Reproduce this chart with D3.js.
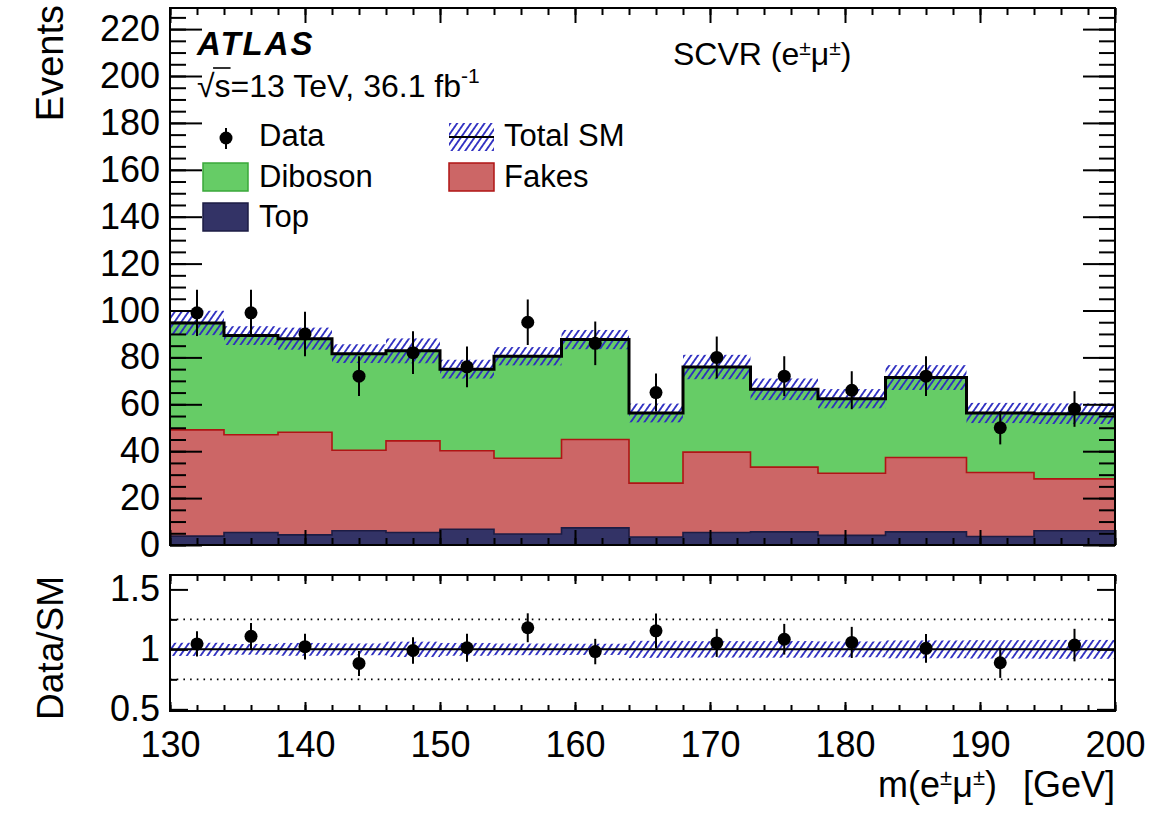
<!DOCTYPE html>
<html>
<head>
<meta charset="utf-8">
<script src="https://cdn.jsdelivr.net/npm/d3@7/dist/d3.min.js"></script>
<style>
  body { margin: 0; background: #fff; }
  text { font-family: "Liberation Sans", Arial, Helvetica, sans-serif; fill: #000; }
</style>
</head>
<body>
<div id="chart"></div>
<script>
// bin edges in m(e mu) [GeV]
var binEdges = [130, 134, 138, 142, 146, 150, 154, 159, 164, 168, 173, 178, 183, 189, 194, 200];

// stacked backgrounds, per bin
var topBkg   = [3.8, 5.3, 4.3, 6.1, 5.3, 6.7, 4.7, 7.3, 3.4, 5.3, 5.6, 4.1, 5.6, 3.6, 6.1];
var fakes    = [45.3, 41.7, 43.8, 34.3, 39.1, 33.5, 32.3, 37.7, 23.0, 34.3, 27.6, 26.5, 31.7, 27.3, 22.1];
var diboson  = [45.6, 42.3, 39.9, 41.2, 38.4, 34.8, 43.5, 42.6, 29.9, 36.3, 33.2, 31.8, 34.1, 25.4, 27.8];
// total SM uncertainty (hatched band)
var totalUnc = [5.2, 4.0, 4.7, 4.0, 5.3, 4.0, 3.9, 4.1, 4.0, 5.2, 4.6, 4.1, 5.3, 4.3, 4.4];

// data and its error
var dataVals = [99, 99, 90, 72, 82, 76, 95, 86, 65, 80, 72, 66, 72, 50, 58];
var dataErr  = [9.9, 9.9, 9.5, 8.5, 9.1, 8.7, 9.7, 9.3, 8.1, 8.9, 8.5, 8.1, 8.5, 7.1, 7.6];

// tick values
var yMajor = [0, 20, 40, 60, 80, 100, 120, 140, 160, 180, 200, 220];
var xMajor = [130, 140, 150, 160, 170, 180, 190, 200];
var rMajor = [0.5, 1, 1.5];
var rMinor = [0.75, 1.25];

var width = 1155, height = 815;
var left = 170, right = 1115;
var mainTop = 8, mainBot = 545, ratTop = 575, ratBot = 711;

var hatchColor = "#2b2bc0";

var svg = d3.select("#chart").append("svg")
  .attr("width", width)
  .attr("height", height);

svg.append("rect").attr("width", width).attr("height", height).attr("fill", "#fff");

// hatch pattern
var defs = svg.append("defs");
defs.append("pattern")
  .attr("id", "hatch")
  .attr("patternUnits", "userSpaceOnUse")
  .attr("width", 5.6)
  .attr("height", 10)
  .attr("patternTransform", "rotate(35)")
  .append("line")
  .attr("x1", 2.8).attr("x2", 2.8)
  .attr("y1", 0).attr("y2", 10)
  .attr("stroke", hatchColor)
  .attr("stroke-width", 1.8);

// scales
var x = d3.scaleLinear().domain([130, 200]).range([left, right]);
var y = d3.scaleLinear().domain([0, 229]).range([mainBot, mainTop]);
var yr = d3.scaleLinear().domain([0.486, 1.62]).range([ratBot, ratTop]);

// build stacked table
var bins = binEdges.slice(0, -1).map(function(lo, i) {
  var s1 = topBkg[i];
  var s2 = s1 + fakes[i];
  var s3 = s2 + diboson[i];
  return {
    lo: lo, hi: binEdges[i + 1], mid: (lo + binEdges[i + 1]) / 2,
    top: s1, fakes: s2, total: s3, unc: totalUnc[i],
    data: dataVals[i], err: dataErr[i]
  };
});

// step points (last bin repeated at the right edge)
function stepPts(key) {
  var pts = bins.map(function(b) { return { x: b.lo, v: b[key] }; });
  pts.push({ x: 200, v: bins[bins.length - 1][key] });
  return pts;
}
function stepArea(loKey, hiKey) {
  var lo = stepPts(loKey), hi = stepPts(hiKey);
  return d3.area()
    .curve(d3.curveStepAfter)
    .x(function(d, i) { return x(hi[i].x); })
    .y0(function(d, i) { return loKey ? y(lo[i].v) : y(0); })
    .y1(function(d, i) { return y(hi[i].v); })(hi);
}
var stepLine = d3.line()
  .curve(d3.curveStepAfter)
  .x(function(d) { return x(d.x); })
  .y(function(d) { return y(d.v); });

var mainG = svg.append("g");

// stacked fills
mainG.append("path").attr("d", stepArea("fakes", "total")).attr("fill", "#66cc66");
mainG.append("path").attr("d", stepArea("top", "fakes")).attr("fill", "#cc6666");
mainG.append("path").attr("d", stepArea(null, "top")).attr("fill", "#333366");

mainG.append("path").attr("d", stepLine(stepPts("fakes")))
  .attr("fill", "none").attr("stroke", "#b01515").attr("stroke-width", 1.6);
mainG.append("path").attr("d", stepLine(stepPts("top")))
  .attr("fill", "none").attr("stroke", "#1c1c44").attr("stroke-width", 1.6);

// total SM uncertainty band
mainG.selectAll(".band").data(bins).enter().append("rect")
  .attr("x", function(d) { return x(d.lo); })
  .attr("width", function(d) { return x(d.hi) - x(d.lo); })
  .attr("y", function(d) { return y(d.total + d.unc); })
  .attr("height", function(d) { return y(d.total - d.unc) - y(d.total + d.unc); })
  .attr("fill", "url(#hatch)");

// total line
mainG.append("path").attr("d", stepLine(stepPts("total")))
  .attr("fill", "none").attr("stroke", "#000").attr("stroke-width", 3);

// data
mainG.selectAll(".ebar").data(bins).enter().append("line")
  .attr("x1", function(d) { return x(d.mid); })
  .attr("x2", function(d) { return x(d.mid); })
  .attr("y1", function(d) { return y(d.data - d.err); })
  .attr("y2", function(d) { return y(d.data + d.err); })
  .attr("stroke", "#000").attr("stroke-width", 2);
mainG.selectAll(".dot").data(bins).enter().append("circle")
  .attr("cx", function(d) { return x(d.mid); })
  .attr("cy", function(d) { return y(d.data); })
  .attr("r", 6.5).attr("fill", "#000");

// ratio panel
var ratG = svg.append("g");
rMinor.forEach(function(v) {
  ratG.append("line")
    .attr("x1", left).attr("x2", right)
    .attr("y1", yr(v)).attr("y2", yr(v))
    .attr("stroke", "#000").attr("stroke-width", 1.6)
    .attr("stroke-dasharray", "1.6,5.1");
});
ratG.selectAll(".rband").data(bins).enter().append("rect")
  .attr("x", function(d) { return x(d.lo); })
  .attr("width", function(d) { return x(d.hi) - x(d.lo); })
  .attr("y", function(d) { return yr(1 + d.unc / d.total); })
  .attr("height", function(d) { return yr(1 - d.unc / d.total) - yr(1 + d.unc / d.total); })
  .attr("fill", "url(#hatch)");
ratG.append("line")
  .attr("x1", left).attr("x2", right)
  .attr("y1", yr(1)).attr("y2", yr(1))
  .attr("stroke", "#000").attr("stroke-width", 2);
ratG.selectAll(".rbar").data(bins).enter().append("line")
  .attr("x1", function(d) { return x(d.mid); })
  .attr("x2", function(d) { return x(d.mid); })
  .attr("y1", function(d) { return yr((d.data - d.err) / d.total); })
  .attr("y2", function(d) { return yr((d.data + d.err) / d.total); })
  .attr("stroke", "#000").attr("stroke-width", 2);
ratG.selectAll(".rdot").data(bins).enter().append("circle")
  .attr("cx", function(d) { return x(d.mid); })
  .attr("cy", function(d) { return yr(d.data / d.total); })
  .attr("r", 6.5).attr("fill", "#000");

// axes (ticks point inward)
function addAxis(gen, tx, ty, size, values, fmt, pad) {
  var g = svg.append("g")
    .attr("transform", "translate(" + tx + "," + ty + ")")
    .call(gen.tickValues(values).tickSize(size).tickPadding(pad || 10)
      .tickFormat(fmt || ""));
  g.select(".domain").remove();
  g.selectAll("line").attr("stroke", "#000").attr("stroke-width", 2);
  g.attr("font-size", 36).attr("font-family", null);
  g.selectAll("text").attr("fill", "#000");
  return g;
}
var xMinor = d3.range(130, 201, 2);
var yMinor = d3.range(0, 230, 5);

// main panel
addAxis(d3.axisLeft(y), left, 0, -16, yMinor);
addAxis(d3.axisLeft(y), left, 0, -32, yMajor, d3.format("d"));
addAxis(d3.axisRight(y), right, 0, -16, yMinor);
addAxis(d3.axisRight(y), right, 0, -32, yMajor);
addAxis(d3.axisBottom(x), 0, mainBot, -7, xMinor);
addAxis(d3.axisBottom(x), 0, mainBot, -15, xMajor);
addAxis(d3.axisTop(x), 0, mainTop, -7, xMinor);
addAxis(d3.axisTop(x), 0, mainTop, -15, xMajor);

// ratio panel
addAxis(d3.axisLeft(yr), left, 0, -7, rMinor);
addAxis(d3.axisLeft(yr), left, 0, -18, rMajor, function(d) { return String(d); });
addAxis(d3.axisRight(yr), right, 0, -7, rMinor);
addAxis(d3.axisRight(yr), right, 0, -18, rMajor);
addAxis(d3.axisBottom(x), 0, ratBot, -6, xMinor);
addAxis(d3.axisBottom(x), 0, ratBot, -9, xMajor, d3.format("d"), 20);
addAxis(d3.axisTop(x), 0, ratTop, -6, xMinor);
addAxis(d3.axisTop(x), 0, ratTop, -9, xMajor);

// frames
[[mainTop, mainBot], [ratTop, ratBot]].forEach(function(p) {
  svg.append("rect")
    .attr("x", left).attr("y", p[0])
    .attr("width", right - left).attr("height", p[1] - p[0])
    .attr("fill", "none").attr("stroke", "#000").attr("stroke-width", 2);
});

// axis titles
svg.append("text")
  .attr("transform", "translate(63,5) rotate(-90)")
  .attr("text-anchor", "end").attr("font-size", 38)
  .text("Events");
svg.append("text")
  .attr("transform", "translate(63," + (ratTop + 1) + ") rotate(-90)")
  .attr("text-anchor", "end").attr("font-size", 37)
  .text("Data/SM");

var xt = svg.append("text").attr("x", 1115).attr("y", 797)
  .attr("text-anchor", "end").attr("font-size", 36);
xt.append("tspan").text("m(e");
xt.append("tspan").attr("dy", -12).attr("font-size", 22).text("±");
xt.append("tspan").attr("dy", 12).text("μ");
xt.append("tspan").attr("dy", -12).attr("font-size", 22).text("±");
xt.append("tspan").attr("dy", 12).text(")");
xt.append("tspan").attr("dx", 16).text(" [GeV]");

// labels
svg.append("text")
  .attr("x", 197).attr("y", 55)
  .attr("font-size", 33).attr("font-weight", "bold").attr("font-style", "italic")
  .attr("letter-spacing", 2)
  .text("ATLAS");

var ecm = svg.append("text").attr("x", 197).attr("y", 97).attr("font-size", 32);
ecm.append("tspan").text("√s=13 TeV, 36.1 fb");
ecm.append("tspan").attr("dy", -14).attr("font-size", 21).text("-1");
var r0 = ecm.node().getExtentOfChar(0);
var r1 = ecm.node().getExtentOfChar(1);
svg.append("line")
  .attr("x1", r0.x + r0.width - 1.5).attr("x2", r1.x + r1.width)
  .attr("y1", 97 - 29).attr("y2", 97 - 29)
  .attr("stroke", "#000").attr("stroke-width", 1.6);

var reg = svg.append("text").attr("x", 673).attr("y", 65).attr("font-size", 32);
reg.append("tspan").text("SCVR (e");
reg.append("tspan").attr("dy", -10).attr("font-size", 21).text("±");
reg.append("tspan").attr("dy", 10).text("μ");
reg.append("tspan").attr("dy", -10).attr("font-size", 21).text("±");
reg.append("tspan").attr("dy", 10).text(")");

// legend
var leg = svg.append("g");
leg.append("line").attr("x1", 226).attr("x2", 226).attr("y1", 128).attr("y2", 149)
  .attr("stroke", "#000").attr("stroke-width", 2);
leg.append("circle").attr("cx", 226).attr("cy", 138).attr("r", 6.5).attr("fill", "#000");
leg.append("text").attr("x", 259).attr("y", 146).attr("font-size", 31).text("Data");

leg.append("rect").attr("x", 449).attr("y", 123).attr("width", 45).attr("height", 28)
  .attr("fill", "url(#hatch)");
leg.append("line").attr("x1", 449).attr("x2", 494).attr("y1", 137).attr("y2", 137)
  .attr("stroke", "#000").attr("stroke-width", 2);
leg.append("text").attr("x", 504).attr("y", 146).attr("font-size", 31).text("Total SM");

var boxes = [
  { label: "Diboson", fill: "#66cc66", line: "#3aa83a", bx: 203, tx: 259, by: 163, ty: 187 },
  { label: "Fakes", fill: "#cc6666", line: "#b01515", bx: 449, tx: 504, by: 163, ty: 187 },
  { label: "Top", fill: "#333366", line: "#1c1c44", bx: 203, tx: 259, by: 203, ty: 227 }
];
boxes.forEach(function(b) {
  leg.append("rect").attr("x", b.bx).attr("y", b.by).attr("width", 45).attr("height", 28)
    .attr("fill", b.fill).attr("stroke", b.line).attr("stroke-width", 1.5);
  leg.append("text").attr("x", b.tx).attr("y", b.ty).attr("font-size", 31).text(b.label);
});
</script>
</body>
</html>
